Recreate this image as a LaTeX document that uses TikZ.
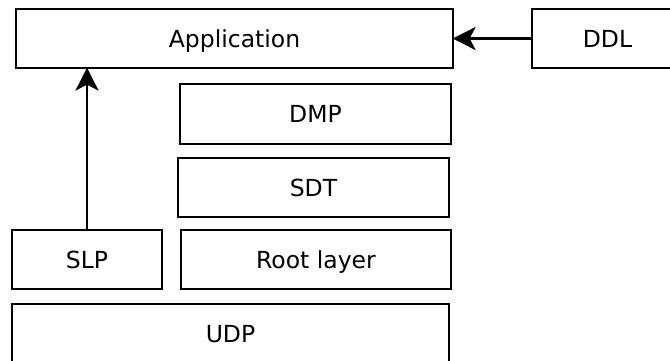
\documentclass[tikz,border=0pt]{standalone}
\usepackage{fontspec}
\setmainfont{DejaVu Sans}
\usetikzlibrary{arrows.meta}
\begin{document}
\begin{tikzpicture}[x=1pt,y=-1pt,
  layer/.style={draw=black, line width=2.2pt, rectangle, inner sep=0pt,
    text height=17pt, text depth=0pt,
    font=\fontsize{23.5}{28}\selectfont},
  link/.style={line width=2.2pt, shorten >=-1.5pt,
    -{Stealth[length=23pt,width=23pt,inset=6pt]}}]
\useasboundingbox (0,0) rectangle (670,360);
\node[layer, minimum width=437pt, minimum height=59pt] (app)  at (234.5,38.5) {Application};
\node[layer, minimum width=151pt, minimum height=59pt] (ddl)  at (607.5,38.5) {DDL};
\node[layer, minimum width=271pt, minimum height=60pt] (dmp)  at (315.5,114)  {DMP};
\node[layer, minimum width=271pt, minimum height=59pt] (sdt)  at (313.5,187.5) {SDT};
\node[layer, minimum width=270pt, minimum height=59pt] (root) at (316,259.5)  {Root layer};
\node[layer, minimum width=150pt, minimum height=59pt] (slp)  at (87,259.5)   {SLP};
\node[layer, minimum width=437pt, minimum height=59pt] (udp)  at (230.5,333.5) {UDP};
\draw[link] (slp.north) -- (slp.north |- app.south);
\draw[link] (ddl.west) -- (app.east);
\end{tikzpicture}
\end{document}
